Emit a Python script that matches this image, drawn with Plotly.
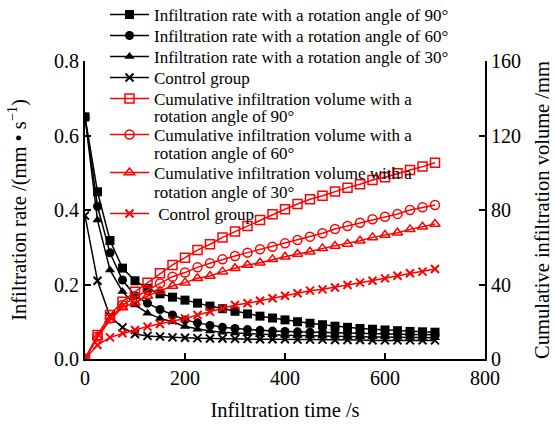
import plotly.graph_objects as go

# Infiltration time (s), sampled every 25 s
time_s = [0, 25, 50, 75, 100, 125, 150, 175, 200, 225, 250, 275, 300, 325, 350,
          375, 400, 425, 450, 475, 500, 525, 550, 575, 600, 625, 650, 675, 700]

# Infiltration rate (mm/s)
rate_90 = [0.65, 0.449, 0.318, 0.244, 0.21, 0.19, 0.175, 0.166, 0.158, 0.15, 0.142,
           0.135, 0.128, 0.121, 0.115, 0.11, 0.105, 0.1, 0.096, 0.092, 0.088, 0.085,
           0.082, 0.08, 0.078, 0.076, 0.074, 0.073, 0.072]
rate_60 = [0.65, 0.41, 0.285, 0.212, 0.17, 0.15, 0.133, 0.118, 0.105, 0.097, 0.09,
           0.085, 0.082, 0.079, 0.077, 0.075, 0.074, 0.073, 0.072, 0.071, 0.07, 0.069,
           0.068, 0.068, 0.067, 0.067, 0.066, 0.066, 0.065]
rate_30 = [0.65, 0.373, 0.239, 0.181, 0.145, 0.123, 0.109, 0.1, 0.087, 0.08, 0.075,
           0.072, 0.07, 0.068, 0.066, 0.065, 0.064, 0.063, 0.062, 0.061, 0.061, 0.06,
           0.06, 0.059, 0.059, 0.058, 0.058, 0.058, 0.057]
rate_ctrl = [0.385, 0.21, 0.114, 0.085, 0.067, 0.062, 0.06, 0.058, 0.057, 0.056, 0.055,
             0.055, 0.054, 0.054, 0.053, 0.053, 0.053, 0.052, 0.052, 0.052, 0.051, 0.051,
             0.051, 0.05, 0.05, 0.05, 0.05, 0.05, 0.05]

# Cumulative infiltration volume (mm)
cum_90 = [0, 12.9, 23.6, 30.8, 36.1, 41.0, 46.0, 50.5, 54.4, 58.5, 61.6, 65.3, 68.4,
          71.4, 74.6, 77.7, 80.4, 83.2, 85.8, 87.7, 90.0, 92.0, 93.8, 96.1, 97.6, 99.7,
          101.5, 103.3, 105.4]
cum_60 = [0, 12.0, 21.8, 29.0, 32.9, 37.0, 40.6, 44.2, 46.4, 49.2, 51.4, 53.5, 55.3,
          57.1, 58.9, 60.3, 62.1, 63.9, 65.7, 67.5, 69.8, 71.4, 73.2, 75.0, 76.4, 77.9,
          80.0, 81.5, 82.7]
cum_30 = [0, 11.5, 20.9, 27.7, 30.2, 33.8, 36.7, 39.2, 41.0, 43.3, 44.6, 46.9, 48.7,
          50.5, 51.7, 53.5, 54.9, 56.4, 57.6, 59.4, 60.7, 61.8, 63.5, 65.3, 66.6, 67.8,
          69.6, 71.0, 72.5]
cum_ctrl = [0, 7.5, 11.6, 13.8, 15.6, 17.4, 18.8, 20.6, 21.8, 23.6, 25.4, 27.2, 29.0,
            29.9, 31.3, 32.6, 34.0, 35.3, 36.7, 37.4, 38.4, 39.7, 41.0, 42.0, 43.3, 44.7,
            46.0, 46.9, 48.3]

FONT = "Liberation Serif, Times New Roman, serif"
BLACK = "#000000"
RED = "#ff0000"
W, H = 555, 424
M_L, M_R, M_T, M_B = 85, 70, 61, 65
PLOT_W, PLOT_H = W - M_L - M_R, H - M_T - M_B

# Legend layout: one single-entry legend per series, stacked in a column.
# Vertical position (px from the top) of each entry's first text line.
legend_rows_px = [15, 36, 57, 78, 99, 135, 173, 214]
# Wrapped second lines of the long cumulative-volume labels (px from the top)
wrap_rows_px = {4: 117, 5: 153, 6: 192}
LEGEND_TOP_OFFSET = 18
LEGEND_LEFT_PX = 105
LEGEND_TEXT_PX = 152
LEGEND_FONT = dict(family=FONT, size=17, color=BLACK)

fig = go.Figure()
legend_ids = ["legend"] + [f"legend{i}" for i in range(2, 9)]


def add_series(y, name, symbol, color, axis, idx):
    if symbol == "x-thin":
        marker = dict(symbol=symbol, size=8, color=color, line=dict(color=color, width=2))
    elif symbol.endswith("-open"):
        marker = dict(symbol=symbol, size=9, color=color, line=dict(color=color, width=1.5))
    else:
        marker = dict(symbol=symbol, size=9, color=color)
    fig.add_trace(go.Scatter(x=time_s, y=y, name=name, mode="lines+markers",
                             line=dict(color=color, width=1.5), marker=marker,
                             yaxis=axis, legend=legend_ids[idx]))


add_series(rate_90, "Infiltration rate with a rotation angle of 90°", "square", BLACK, "y", 0)
add_series(rate_60, "Infiltration rate with a rotation angle of 60°", "circle", BLACK, "y", 1)
add_series(rate_30, "Infiltration rate with a rotation angle of 30°", "triangle-up", BLACK, "y", 2)
add_series(rate_ctrl, "Control group", "x-thin", BLACK, "y", 3)
add_series(cum_90, "Cumulative infiltration volume with a", "square-open", RED, "y2", 4)
add_series(cum_60, "Cumulative infiltration volume with a", "circle-open", RED, "y2", 5)
add_series(cum_30, "Cumulative infiltration volume with a", "triangle-up-open", RED, "y2", 6)
add_series(cum_ctrl, "\u00a0Control group", "x-thin", RED, "y2", 7)

wrap_text = {4: "rotation angle of 90°", 5: "rotation angle of 60°",
             6: "rotation angle of 30°"}

legend_layout = {}
for lid, row in zip(legend_ids, legend_rows_px):
    legend_layout[lid] = dict(
        xref="paper", yref="paper",
        x=(LEGEND_LEFT_PX - M_L) / PLOT_W,
        y=(H - M_B - (row - LEGEND_TOP_OFFSET)) / PLOT_H,
        xanchor="left", yanchor="top", valign="top",
        bgcolor="rgba(0,0,0,0)", borderwidth=0, itemwidth=39,
        font=LEGEND_FONT,
    )

annotations = [
    dict(text=wrap_text[i], xref="paper", yref="paper",
         x=(LEGEND_TEXT_PX - M_L) / PLOT_W, y=(H - M_B - wrap_rows_px[i]) / PLOT_H,
         xanchor="left", yanchor="middle", showarrow=False, font=LEGEND_FONT)
    for i in wrap_rows_px
]

axis_common = dict(showline=True, linecolor=BLACK, linewidth=2, ticks="inside",
                   ticklen=6, tickwidth=1.5, tickcolor=BLACK, showgrid=False,
                   zeroline=False, tickfont=dict(family=FONT, size=20, color=BLACK))
title_font = dict(family=FONT, size=20.5, color=BLACK)

fig.update_layout(
    width=W, height=H,
    margin=dict(l=M_L, r=M_R, t=M_T, b=M_B, autoexpand=False),
    paper_bgcolor="white", plot_bgcolor="white",
    font=dict(family=FONT, size=17, color=BLACK),
    showlegend=True,
    annotations=annotations,
    xaxis=dict(range=[0, 800], tickvals=[0, 200, 400, 600, 800],
               title=dict(text="Infiltration time /s", font=title_font, standoff=15),
               **axis_common),
    yaxis=dict(range=[0, 0.8], tickvals=[0, 0.2, 0.4, 0.6, 0.8], tickformat=".1f",
               title=dict(text="Infiltration rate /(mm • s<sup>−1</sup>)", font=title_font,
                          standoff=22),
               **axis_common),
    yaxis2=dict(range=[0, 160], tickvals=[0, 40, 80, 120, 160], overlaying="y",
                side="right",
                title=dict(text="Cumulative infiltration volume /mm", font=title_font),
                **axis_common),
    **legend_layout,
)

fig.write_html("out.html")
